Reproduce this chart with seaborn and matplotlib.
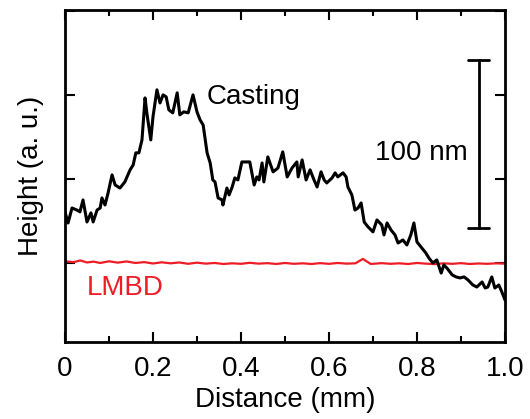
import numpy as np
import pandas as pd
import matplotlib
matplotlib.use("Agg")
import matplotlib.pyplot as plt
import seaborn as sns

# Casting profile (distance in mm, height in nm)
casting_x = [0.000, 0.007, 0.016, 0.027, 0.034, 0.041, 0.050, 0.059, 0.064, 0.073,
             0.080, 0.084, 0.091, 0.098, 0.107, 0.114, 0.125, 0.136, 0.148, 0.155,
             0.161, 0.168, 0.175, 0.182, 0.186, 0.195, 0.200, 0.209, 0.216, 0.223,
             0.230, 0.236, 0.245, 0.255, 0.261, 0.270, 0.280, 0.291, 0.300, 0.307,
             0.314, 0.323, 0.330, 0.336, 0.341, 0.348, 0.357, 0.359, 0.368, 0.373,
             0.380, 0.386, 0.393, 0.402, 0.420, 0.430, 0.436, 0.441, 0.448, 0.452,
             0.461, 0.473, 0.484, 0.495, 0.505, 0.516, 0.527, 0.530, 0.539, 0.548,
             0.557, 0.566, 0.573, 0.582, 0.589, 0.595, 0.607, 0.614, 0.620, 0.632,
             0.639, 0.643, 0.652, 0.659, 0.666, 0.673, 0.680, 0.689, 0.700, 0.709,
             0.720, 0.725, 0.732, 0.741, 0.750, 0.757, 0.768, 0.777, 0.786, 0.793,
             0.800, 0.811, 0.820, 0.827, 0.836, 0.845, 0.855, 0.861, 0.868, 0.880,
             0.889, 0.898, 0.907, 0.916, 0.927, 0.936, 0.948, 0.955, 0.961, 0.970,
             0.977, 0.986, 0.993, 1.000]
casting_y = [30.4, 23.8, 32.7, 31.5, 30.4, 37.5, 24.4, 29.8, 24.4, 31.5,
             32.7, 38.7, 34.5, 41.7, 52.4, 46.4, 44.6, 48.2, 55.4, 58.3,
             65.5, 65.5, 73.2, 98.2, 89.3, 73.2, 86.9, 103.0, 95.2, 100.0,
             98.8, 91.1, 89.3, 101.2, 88.1, 89.9, 89.3, 100.0, 89.9, 85.1,
             82.1, 65.5, 59.5, 49.4, 48.2, 38.7, 37.5, 34.5, 44.6, 40.5,
             45.2, 50.6, 49.4, 60.1, 60.1, 46.4, 51.2, 49.4, 59.5, 48.2,
             63.1, 54.2, 56.5, 66.1, 51.2, 56.5, 60.1, 51.2, 61.3, 49.4,
             55.4, 49.4, 45.2, 54.2, 49.4, 47.6, 50.6, 53.6, 51.2, 53.6,
             51.2, 45.2, 40.5, 31.5, 32.7, 35.7, 24.4, 21.4, 18.5, 25.6,
             22.6, 16.7, 23.8, 19.6, 16.7, 11.9, 13.7, 10.7, 16.7, 23.8,
             12.5, 8.9, 6.0, 3.0, 0.0, 1.8, -6.0, -1.2, -3.0, -7.1,
             -8.3, -8.9, -8.3, -10.1, -13.1, -14.3, -11.3, -14.9, -14.3, -8.3,
             -14.9, -13.1, -17.3, -22.0]

# LMBD profile
lmbd_x = [0.000, 0.020, 0.035, 0.050, 0.065, 0.080, 0.100, 0.120, 0.140, 0.160,
          0.180, 0.200, 0.220, 0.240, 0.260, 0.280, 0.300, 0.320, 0.340, 0.360,
          0.380, 0.400, 0.420, 0.440, 0.460, 0.480, 0.500, 0.520, 0.540, 0.560,
          0.580, 0.600, 0.620, 0.640, 0.660, 0.677, 0.695, 0.720, 0.740, 0.760,
          0.780, 0.800, 0.820, 0.840, 0.860, 0.880, 0.900, 0.920, 0.940, 0.960,
          0.980, 1.000]
lmbd_y = [1.0, 0.5, 1.5, 0.3, 0.8, 0.0, 1.0, 0.2, 0.9, 0.0,
          0.5, -0.3, 0.4, -0.2, 0.3, -0.5, 0.2, -0.4, 0.0, -0.6,
          -0.2, -0.5, 0.1, -0.4, -0.1, -0.6, 0.0, -0.5, -0.2, -0.6,
          -0.1, -0.5, 0.0, -0.4, -0.2, 2.4, -0.6, -0.1, -0.5, -0.2,
          -0.6, 0.0, -0.4, -0.7, -0.2, -0.5, -0.1, -0.6, -0.3, -0.5,
          -0.2, -0.4]

df_cast = pd.DataFrame({"x": casting_x, "y": casting_y})
df_lmbd = pd.DataFrame({"x": lmbd_x, "y": lmbd_y})

sns.set_style("ticks", {"axes.edgecolor": "black", "text.color": "black",
                        "axes.labelcolor": "black", "xtick.color": "black",
                        "ytick.color": "black"})
plt.rcParams["font.family"] = ["Liberation Sans", "DejaVu Sans"]

fig = plt.figure(figsize=(5.3, 4.19), dpi=100)
ax = fig.add_axes([0.1226, 0.1838, 0.8302, 0.7924])

sns.lineplot(data=df_lmbd, x="x", y="y", color="#ee1c25", lw=1.6, ax=ax)
sns.lineplot(data=df_cast, x="x", y="y", color="black", lw=2.2, ax=ax)

# scale bar (100 nm)
ax.plot([0.941, 0.941], [20.8, 120.8], color="black", lw=2.0)
ax.plot([0.916, 0.964], [120.8, 120.8], color="black", lw=2.0)
ax.plot([0.916, 0.964], [20.8, 20.8], color="black", lw=2.0)
ax.text(0.916, 65.5, "100 nm", fontsize=20, ha="right", va="center")

ax.text(0.323, 98.8, "Casting", fontsize=20, ha="left", va="center")
ax.text(0.05, -14.9, "LMBD", fontsize=20, ha="left", va="center", color="#ee1c25")

ax.set_xlim(0, 1.0)
ax.set_ylim(-47, 150.5)
ax.set_xticks([0, 0.2, 0.4, 0.6, 0.8, 1.0])
ax.set_xticklabels(["0", "0.2", "0.4", "0.6", "0.8", "1.0"])
ax.set_xticks([0.1, 0.3, 0.5, 0.7, 0.9], minor=True)
ax.set_yticks([0, 50, 100, 150])
ax.set_yticklabels([])

ax.tick_params(axis="both", which="both", direction="in", top=True, right=True,
               width=1.5, labelsize=20, colors="black")
ax.tick_params(axis="both", which="major", length=7)
ax.tick_params(axis="x", which="major", pad=10)
ax.tick_params(axis="y", which="major", pad=5)
ax.tick_params(axis="both", which="minor", length=4)
for s in ax.spines.values():
    s.set_linewidth(2.0)
    s.set_color("black")

ax.set_xlabel("Distance (mm)", fontsize=20, labelpad=4, color="black")
ax.set_ylabel("Height (a. u.)", fontsize=20, labelpad=10, color="black")

fig.savefig("out.png", dpi=100)
